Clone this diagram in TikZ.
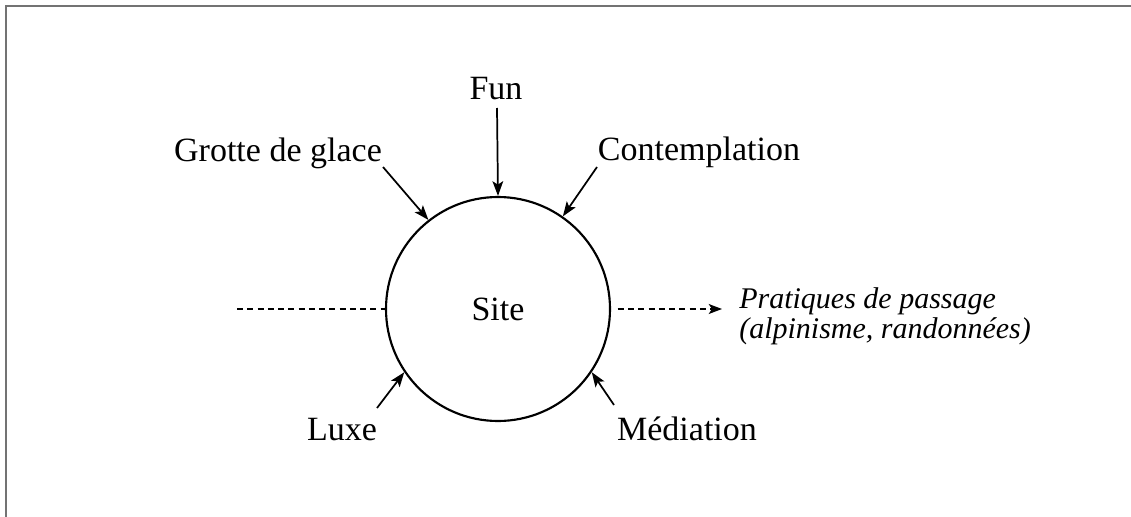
\documentclass[tikz,border=0pt]{standalone}
\usepackage{fontspec}
\setmainfont{Liberation Serif}
\usetikzlibrary{arrows.meta}
\tikzset{
  lbl/.style={anchor=base, inner sep=0pt, font=\fontsize{25.5}{30}\selectfont},
  feed/.style={line width=1.3pt, -{Stealth[length=11pt,width=8pt,inset=2.5pt]}},
  dash line/.style={line width=1.1pt, dash pattern=on 4.5pt off 3.2pt},
  frame/.style={line width=1.5pt, draw=black!55}
}
\begin{document}
\begin{tikzpicture}[x=0.75pt,y=-0.75pt]
\useasboundingbox (0,0) rectangle (1131,517);
% frame edges
\draw[frame] (1131,6.5) -- (6,6.5) -- (6,517);

\node[circle, draw, line width=1.6pt, minimum size=168pt, inner sep=0pt,
      font=\fontsize{25.5}{30}\selectfont] (site) at (498,309) {Site};

\node[lbl] (fun) at (496,99) {Fun};
\node[lbl] (grotte) at (278,161) {Grotte de glace};
\node[lbl] (contemp) at (699,160) {Contemplation};
\node[lbl] (luxe) at (342,440) {Luxe};
\node[lbl] (media) at (687,440) {Médiation};
\node[anchor=north west, inner sep=0pt, align=left,
      font=\itshape\fontsize{22.5}{22.5}\selectfont] (prat) at (739,287)
      {Pratiques de passage\\(alpinisme, randonnées)};

\coordinate (funT) at (497,108);
\coordinate (grotteT) at (383,167);
\coordinate (contempT) at (597,167);
\coordinate (luxeT) at (377,408);
\coordinate (mediaT) at (614,405);
\coordinate (inL) at (237,309);
\coordinate (outR) at (722,309);

\draw[feed] (funT) -- (site.north);
\draw[feed] (grotteT) -- (site.128);
\draw[feed] (contempT) -- (site.55);
\draw[feed] (luxeT) -- (site.214);
\draw[feed] (mediaT) -- (site.326);

\draw[dash line] (inL) -- (site.west);
\draw[dash line, shorten <=5pt, -{Stealth[length=10pt,width=7.5pt,inset=2.5pt]}] (site.east) -- (outR);
\end{tikzpicture}
\end{document}
